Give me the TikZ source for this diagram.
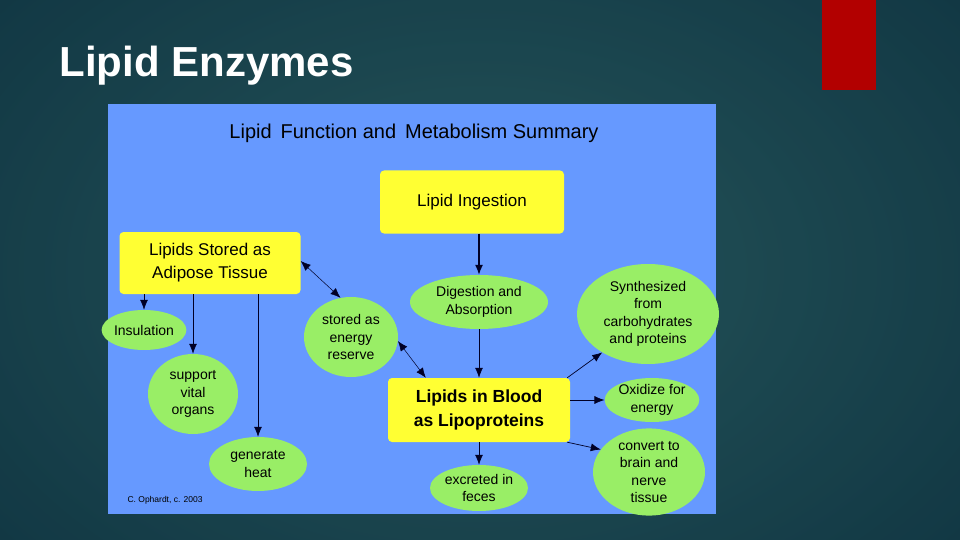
\documentclass[tikz,border=0pt]{standalone}
\usepackage{fontspec}
\setmainfont{Liberation Sans}
\usetikzlibrary{arrows.meta,shapes.geometric}
\definecolor{ybox}{HTML}{FFFF33}
\definecolor{gell}{HTML}{99EE66}
\definecolor{panel}{HTML}{6699FF}
\definecolor{bgA}{HTML}{2E6468}
\definecolor{bgB}{HTML}{123A48}
\begin{document}
\begin{tikzpicture}[x=1pt,y=-1pt,
  box/.style={draw=none,fill=ybox,rounded corners=4pt,align=center,font=\fontsize{17}{23}\selectfont,inner sep=0pt},
  ell/.style={ellipse,fill=gell,draw=none,align=center,font=\fontsize{14}{17.5}\selectfont,inner sep=0pt},
  arr/.style={-{Latex[length=10pt,width=8pt]},line width=0.7pt,black!85!blue},
  darr/.style={{Latex[length=10pt,width=8pt]}-{Latex[length=10pt,width=8pt]},line width=0.5pt,black!85!blue}]
\useasboundingbox (0,0) rectangle (960,540);
\shade[inner color=bgA,outer color=bgB] (-200,-200) rectangle (1160,740);
\fill[bgB!70!black,opacity=0.25] (0,0) rectangle (960,540);
\fill[red!70!black] (822,0) rectangle (876,90);
\node[text=white,anchor=west,font=\fontsize{42}{44}\selectfont\bfseries] (title) at (56,66) {Lipid Enzymes};
\fill[panel] (108,104) rectangle (716,514);
\node[font=\fontsize{20}{22}\selectfont] (sub) at (414,133) {Lipid\, Function and\, Metabolism Summary};
\node[box,minimum width=184pt,minimum height=63pt] (ing) at (472,202) {Lipid Ingestion};
\node[box,minimum width=181pt,minimum height=62pt] (sto) at (210,263) {Lipids Stored as\\Adipose Tissue};
\node[box,minimum width=182pt,minimum height=64pt,font=\fontsize{17.5}{24}\selectfont\bfseries] (blood) at (479,410) {Lipids in Blood\\as Lipoproteins};
\node[ell,minimum width=76pt,minimum height=40pt] (ins) at (144,330) {Insulation};
\node[ell,minimum width=90pt,minimum height=80pt] (sup) at (193,394) {support\\vital\\organs};
\node[ell,minimum width=98pt,minimum height=54pt] (heat) at (258,464) {generate\\heat};
\node[ell,minimum width=94pt,minimum height=80pt] (res) at (351,337) {stored as\\energy\\reserve};
\node[ell,minimum width=138pt,minimum height=54pt] (dig) at (479,302) {Digestion and\\Absorption};
\node[ell,minimum width=142pt,minimum height=100pt] (syn) at (648,314) {Synthesized\\from\\carbohydrates\\and proteins};
\node[ell,minimum width=92pt,minimum height=44pt] (oxi) at (652,400) {Oxidize for\\energy};
\node[ell,minimum width=112pt,minimum height=86pt] (conv) at (649,472) {convert to\\brain and\\nerve\\tissue};
\node[ell,minimum width=98pt,minimum height=46pt] (exc) at (479,488) {excreted in\\feces};
\node[font=\fontsize{8.5}{10}\selectfont,anchor=west] (cred) at (124,500) {C. Ophardt, c. 2003};
\draw[arr,line width=1.3pt] (ing.south -| dig.north) -- (dig.north);
\draw[arr] (dig) -- (blood.north -| dig.south);
\draw[arr] (ins.north |- sto.south) -- (ins.north);
\draw[arr] (sup.north |- sto.south) -- (sup.north);
\draw[arr] (heat.north |- sto.south) -- (heat.north);
\draw[darr] ([yshift=2pt]sto.east) -- (res.105);
\draw[darr] (res.355) -- ([xshift=38pt]blood.north west);
\draw[arr] ([xshift=-3pt]blood.north east) -- (syn.220);
\draw[arr] ([yshift=10pt]blood.east) -- (oxi.west);
\draw[arr] ([xshift=-3pt]blood.south east) -- (conv.155);
\draw[arr] (blood.south -| exc.north) -- (exc.north);
\end{tikzpicture}
\end{document}
